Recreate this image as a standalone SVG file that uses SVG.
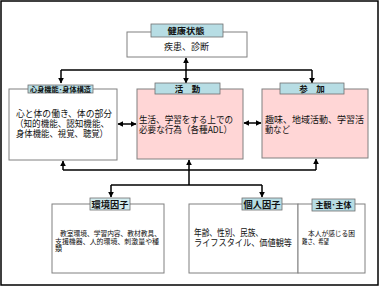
<svg xmlns="http://www.w3.org/2000/svg" width="379" height="286" viewBox="0 0 379 286">
<style>
text{font-family:"Noto Sans CJK JP","Noto Sans",sans-serif;fill:#111}
.box{fill:#fff;stroke:#808080;stroke-width:1}
.pink{fill:#ffd6d6;stroke:#808080;stroke-width:1}
.lbl{fill:#b7dde4;stroke:#6f6f6f;stroke-width:0.8}
.lbl2{fill:#d2ecef;stroke:#6f6f6f;stroke-width:0.8}
.t9{font-size:9.5px}
.t7{font-size:7px}
.h{font-size:8.5px;font-weight:bold;text-anchor:middle}
.hs{font-size:6.6px;font-weight:bold;text-anchor:middle}
.conn path{fill:none;stroke:#000;stroke-width:1.5}
</style>
<defs>
<marker id="ah" viewBox="0 0 10 10" refX="9" refY="5" markerWidth="4" markerHeight="4" orient="auto-start-reverse">
<path d="M0,0 L10,5 L0,10 z" fill="#000"/>
</marker>
</defs>
<rect x="1" y="1" width="377" height="284" fill="#fff" stroke="#000" stroke-width="1.5"/>

<g class="conn">
<path d="M61,70 H312"/>
<path d="M61,70 V83" marker-end="url(#ah)"/>
<path d="M312,70 V83" marker-end="url(#ah)"/>
<path d="M186,58 V83" marker-start="url(#ah)" marker-end="url(#ah)"/>
<path d="M118,124 H136" marker-start="url(#ah)" marker-end="url(#ah)"/>
<path d="M244,123 H261" marker-start="url(#ah)" marker-end="url(#ah)"/>
<path d="M63,170 H316"/>
<path d="M63,170 V161" marker-end="url(#ah)"/>
<path d="M316,170 V159" marker-end="url(#ah)"/>
<path d="M189,185 V160" marker-end="url(#ah)"/>
<path d="M111,185 H262"/>
<path d="M111,185 V197" marker-end="url(#ah)"/>
<path d="M262,185 V197" marker-end="url(#ah)"/>
</g>

<g id="health">
<rect class="box" x="127" y="32" width="120" height="25"/>
<rect class="lbl" x="151" y="24" width="72" height="13"/>
<text class="h" x="186" y="34" textLength="37" lengthAdjust="spacingAndGlyphs">健康状態</text>
<text class="t9" x="164" y="50" textLength="45" lengthAdjust="spacingAndGlyphs">疾患、診断</text>
</g>

<g id="body">
<rect class="box" x="9" y="89" width="108" height="71"/>
<rect class="lbl" x="28" y="85" width="65" height="8"/>
<text class="hs" x="60.5" y="91.5" textLength="61" lengthAdjust="spacingAndGlyphs">心身機能･身体構造</text>
<text class="t9" x="16" y="117" textLength="96" lengthAdjust="spacingAndGlyphs">心と体の働き、体の部分</text>
<text class="t9" x="15" y="127" textLength="94" lengthAdjust="spacingAndGlyphs">（知的機能、認知機能、</text>
<text class="t9" x="16" y="137" textLength="92" lengthAdjust="spacingAndGlyphs">身体機能、視覚、聴覚）</text>
</g>

<g id="activity">
<rect class="pink" x="137" y="89" width="106" height="70"/>
<rect class="lbl" x="155" y="83" width="65" height="11"/>
<text class="h" x="187.5" y="91.5">活　動</text>
<text class="t9" x="139" y="123" textLength="94" lengthAdjust="spacingAndGlyphs">生活、学習をする上での</text>
<text class="t9" x="139" y="133" textLength="93" lengthAdjust="spacingAndGlyphs">必要な行為（各種ADL）</text>
</g>

<g id="participation">
<rect class="pink" x="262" y="89" width="106" height="69"/>
<rect class="lbl" x="280" y="83" width="64" height="11"/>
<text class="h" x="312" y="91.5">参　加</text>
<text class="t9" x="265" y="123" textLength="99" lengthAdjust="spacingAndGlyphs">趣味、地域活動、学習活</text>
<text class="t9" x="265" y="133" textLength="25" lengthAdjust="spacingAndGlyphs">動など</text>
</g>

<g id="environment">
<rect class="box" x="52" y="204" width="112" height="69"/>
<rect class="lbl2" x="90" y="198" width="40" height="12"/>
<text x="110" y="207.5" font-size="9" font-weight="bold" text-anchor="middle" textLength="37" lengthAdjust="spacingAndGlyphs">環境因子</text>
<text class="t7" x="60" y="235.5" textLength="101" lengthAdjust="spacingAndGlyphs">教室環境、学習内容、教材教具、</text>
<text class="t7" x="55" y="243.5" textLength="104" lengthAdjust="spacingAndGlyphs">支援機器、人的環境、刺激量や種</text>
<text class="t7" x="55" y="251">類</text>
</g>

<g id="personal">
<rect class="box" x="189" y="204" width="109" height="69"/>
<rect class="lbl" x="242" y="198" width="40" height="12"/>
<text x="262" y="207.5" font-size="9" font-weight="bold" text-anchor="middle" textLength="37" lengthAdjust="spacingAndGlyphs">個人因子</text>
<text class="t9" x="194" y="236" textLength="69" lengthAdjust="spacingAndGlyphs">年齢、性別、民族、</text>
<text class="t9" x="194" y="246" textLength="98" lengthAdjust="spacingAndGlyphs">ライフスタイル、価値観等</text>
</g>

<g id="subjective">
<rect class="box" x="298" y="204" width="67" height="69"/>
<rect class="lbl" x="312" y="199" width="43" height="12"/>
<text x="333.5" y="208" font-size="7.5" font-weight="bold" text-anchor="middle" textLength="36" lengthAdjust="spacingAndGlyphs">主観･主体</text>
<text class="t7" x="308" y="235.5" textLength="47" lengthAdjust="spacingAndGlyphs">本人が感じる困</text>
<text class="t7" x="302" y="244" textLength="27" lengthAdjust="spacingAndGlyphs">難さ、希望</text>
</g>
</svg>
